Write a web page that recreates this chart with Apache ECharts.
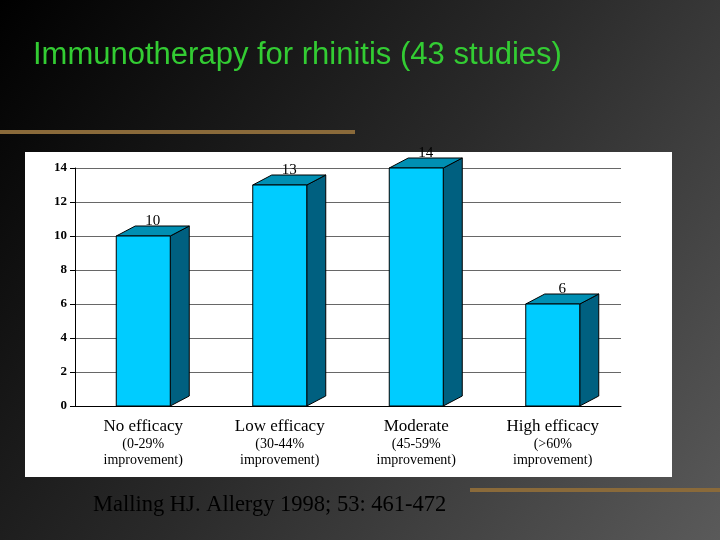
<!DOCTYPE html>
<html><head><meta charset="utf-8">
<script src="https://cdn.jsdelivr.net/npm/echarts@6/dist/echarts.min.js"></script>
<style>html,body{margin:0;padding:0;background:#333}#c{width:720px;height:540px}</style>
</head><body><div id="c"></div>
<script>
const categories = ['No efficacy\n{s|(0-29%\nimprovement)}', 'Low efficacy\n{s|(30-44%\nimprovement)}', 'Moderate\n{s|(45-59%\nimprovement)}', 'High efficacy\n{s|(>60%\nimprovement)}'];
const values = [10, 13, 14, 6];
const yTicks = [0, 2, 4, 6, 8, 10, 12, 14];

const chart = echarts.init(document.getElementById('c'));
const W = 54, DX = 19, DY = 10;
chart.setOption({
  animation: false,
  graphic: [
    {type:'rect', z:-10, shape:{x:0,y:0,width:720,height:540},
     style:{fill:new echarts.graphic.LinearGradient(0,0,1,1,[{offset:0,color:'#000'},{offset:0.5,color:'#2a2a2a'},{offset:1,color:'#5a5a5a'}])}},
    {type:'text', left:33, top:40, style:{text:'Immunotherapy for rhinitis (43 studies)', fill:'#33cc33', font:'31px "Liberation Sans", Arial'}},
    {type:'rect', shape:{x:0,y:130,width:355,height:4}, style:{fill:'#8a6a3a'}},
    {type:'rect', shape:{x:470,y:488,width:250,height:4}, style:{fill:'#8a6a3a'}},
    {type:'rect', z:-5, shape:{x:25,y:152,width:647,height:325}, style:{fill:'#fff'}},
    {type:'text', left:93, top:494, style:{text:'Malling HJ. Allergy 1998; 53: 461-472', fill:'#000', font:'22.5px "Liberation Serif", serif'}}
  ],
  grid: {left:75, right:99, top:168, bottom:134},
  xAxis: {type:'category', data:categories,
    axisLine:{lineStyle:{color:'#000'}}, axisTick:{show:false},
    axisLabel:{interval:0, color:'#000', fontSize:17, lineHeight:18, margin:12, fontFamily:'Liberation Serif',
      rich:{s:{fontSize:14, lineHeight:16, color:'#000', fontFamily:'Liberation Serif'}}}},
  yAxis: {type:'value', min:0, max:14, interval:2,
    axisLine:{show:true, lineStyle:{color:'#000'}}, axisTick:{show:true, lineStyle:{color:'#000'}},
    axisLabel:{color:'#000', fontSize:13, fontWeight:'bold', fontFamily:'Liberation Serif'},
    splitLine:{lineStyle:{color:'#000', width:0.6}}},
  series: [{
    type:'custom', data: values.map((v,i)=>[i,v]),
    renderItem: function(params, api){
      const top = api.coord([api.value(0), api.value(1)]);
      const base = api.coord([api.value(0), 0]);
      const x0 = top[0]-W/2, x1 = top[0]+W/2, yt = top[1], yb = base[1];
      return {type:'group', children:[
        {type:'polygon', shape:{points:[[x1,yt],[x1+DX,yt-DY],[x1+DX,yb-DY],[x1,yb]]}, style:{fill:'#006080', stroke:'#000', lineWidth:1}},
        {type:'polygon', shape:{points:[[x0,yt],[x0+DX,yt-DY],[x1+DX,yt-DY],[x1,yt]]}, style:{fill:'#008fb3', stroke:'#000', lineWidth:1}},
        {type:'rect', shape:{x:x0,y:yt,width:W,height:yb-yt}, style:{fill:'#00ccff', stroke:'#000', lineWidth:1}},
        {type:'text', style:{text:String(api.value(1)), x:top[0]+DX/2, y:yt-DY+3, align:'center', verticalAlign:'bottom', fill:'#000', font:'15px "Liberation Serif"'}}
      ]};
    }
  }]
});
</script></body></html>
